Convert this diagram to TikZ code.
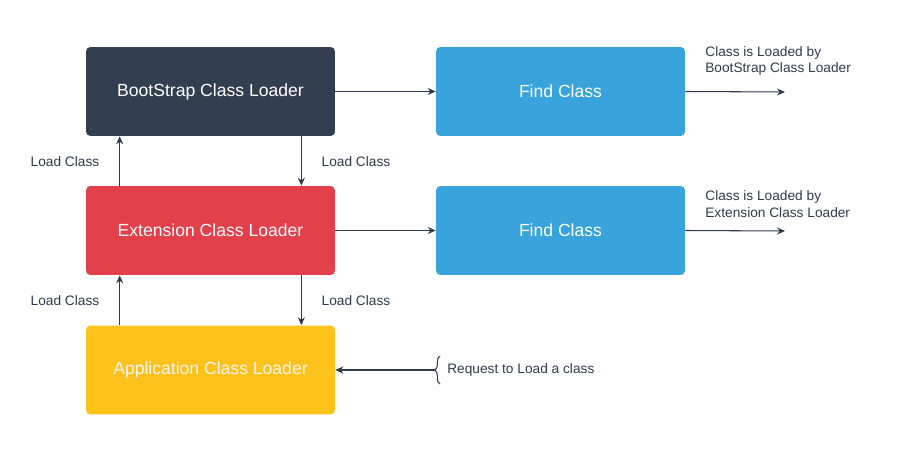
\documentclass[tikz,border=0pt]{standalone}
\usepackage{fontspec}
\setmainfont{Liberation Sans}
\usetikzlibrary{arrows.meta,decorations.pathreplacing}
\definecolor{ink}{RGB}{47,59,76}
\definecolor{slate}{RGB}{50,63,80}
\definecolor{crimson}{RGB}{226,65,75}
\definecolor{sky}{RGB}{56,164,219}
\definecolor{amber}{RGB}{253,194,27}

\begin{document}
\begin{tikzpicture}[x=0.02cm,y=-0.02cm,
    loader/.style={rectangle,rounded corners=2.5pt,minimum width=4.98cm,minimum height=1.78cm,
      text=white,font=\fontsize{10}{12}\selectfont},
    lbl/.style={font=\fontsize{7.8}{9.4}\selectfont,text=ink,inner sep=0pt},
    link/.style={draw=ink,line width=0.6pt,-{Stealth[length=4.5pt,width=4pt]}}]
            \useasboundingbox (0,0) rectangle (900,456);

            \node[loader,fill=slate] (boot) at (210.5,91.5){BootStrap Class Loader};
            \node[loader,fill=crimson] (ext) at (210.5,230.5){Extension Class Loader};
            \node[loader,fill=amber,text=white!92!gray] (app) at (210.5,370){Application Class Loader};
            \node[loader,fill=sky] (find_1) at (560.5,91.5){Find Class};
            \node[loader,fill=sky] (find_2) at (560.5,230.5){Find Class};

            \coordinate (out_1) at (785,92);
            \coordinate (out_2) at (785,231);

            \draw[link] (boot) -- (find_1);
            \draw[link] (ext) -- (find_2);
            \draw[link] (find_1.east) -- (out_1);
            \draw[link] (find_2.east) -- (out_2);

            \draw[link] ([xshift=0.68cm]ext.north west) -- ([xshift=0.68cm]boot.south west);
            \draw[link] ([xshift=-0.68cm]boot.south east) -- ([xshift=-0.68cm]ext.north east);
            \draw[link] ([xshift=0.68cm]app.north west) -- ([xshift=0.68cm]ext.south west);
            \draw[link] ([xshift=-0.68cm]ext.south east) -- ([xshift=-0.68cm]app.north east);

            \node[lbl] (l_1) at (65,162){Load Class};
            \node[lbl] (r_1) at (356,162){Load Class};
            \node[lbl] (l_2) at (65,301){Load Class};
            \node[lbl] (r_2) at (356,301){Load Class};

            \node[lbl,anchor=west,align=left] (res_1) at (705,61){Class is Loaded by\\BootStrap Class Loader};
            \node[lbl,anchor=west,align=left] (res_2) at (705,204){Class is Loaded by\\Extension Class Loader};

            \draw[ink,line width=0.6pt,decorate,decoration={brace,amplitude=3pt}] (440,384) -- (440,356);
            \coordinate (req) at (436,370);
            \draw[link] (req) -- (app.east);
            \node[lbl,anchor=west] (req_text) at (447,370){Request to Load a class};
\end{tikzpicture}
\end{document}
